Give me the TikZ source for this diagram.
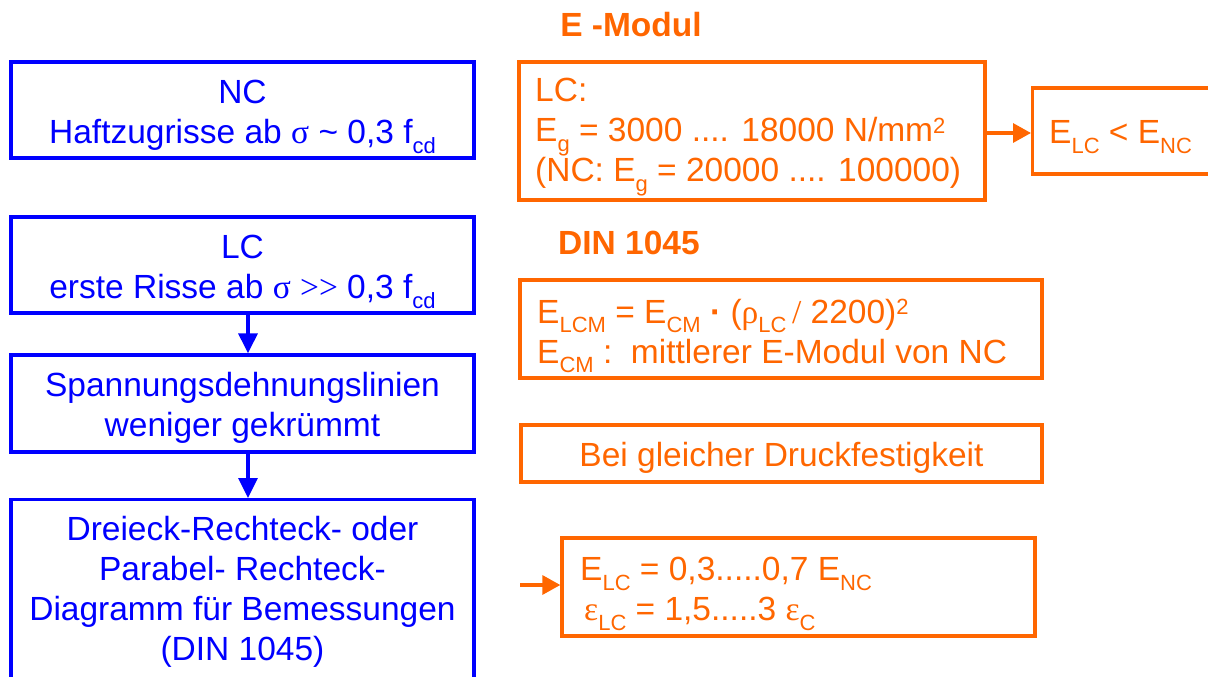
\documentclass[tikz,border=0pt]{standalone}
\usepackage{fontspec}
\setmainfont{Liberation Sans}
\newfontfamily\grk{Liberation Serif}
\usetikzlibrary{arrows.meta}
\definecolor{bl}{RGB}{0,0,255}
\definecolor{orng}{RGB}{255,102,0}
\newcommand\lo[1]{\raisebox{-0.28em}{\fontsize{22}{22}\selectfont #1}}
\newcommand\hi[1]{\raisebox{0.26em}{\fontsize{22}{22}\selectfont #1}}
\newcommand\fsz{\fontsize{33.5}{40}\selectfont}
\tikzset{
  bbox/.style={draw=bl, line width=3.3pt, minimum width=463pt, inner sep=0pt},
  btext/.style={text=bl, align=center, font=\fsz, inner sep=0pt},
  obox/.style={draw=orng, line width=3.3pt, inner sep=0pt},
  otext/.style={text=orng, font=\fsz, inner sep=0pt, align=left},
  otitle/.style={text=orng, font=\fsz\bfseries, inner sep=0pt},
  barrow/.style={draw=bl, line width=3.3pt, -{Triangle[length=20pt,width=19pt]}},
  oarrow/.style={draw=orng, line width=3.3pt, -{Triangle[length=18pt,width=19pt]}}
}
\begin{document}
\begin{tikzpicture}[x=1pt,y=-1pt]
\useasboundingbox (0,0) rectangle (1208,677);
\clip (0,0) rectangle (1208,677);
% blue column
\node[bbox, minimum height=96pt] (nc) at (242.5,110) {};
\node[btext] (nct) at ([yshift=-7pt]nc.center) {NC\\Haftzugrisse ab {\grk σ} \textasciitilde{} 0,3 f\lo{cd}};
\node[bbox, minimum height=96pt] (lc) at (242.5,265) {};
\node[btext] (lct) at ([yshift=-7pt]lc.center) {LC\\erste Risse ab {\grk σ} {\grk >>} 0,3 f\lo{cd}};
\node[bbox, minimum height=97pt] (sp) at (242.5,403.5) {};
\node[btext] (spt) at ([yshift=-4pt]sp.center) {Spannungsdehnungslinien\\weniger gekrümmt};
\node[bbox, minimum height=200pt, anchor=north] (dr) at (242.5,498) {};
\node[btext, anchor=north] (drt) at (242.5,516) {Dreieck-Rechteck- oder\\Parabel- Rechteck-\\Diagramm für Bemessungen\\(DIN 1045)};
\draw[barrow] (lc.south -| 248,0) -- (sp.north -| 248,0);
\draw[barrow] (sp.south -| 248,0) -- (dr.north -| 248,0);
% orange column
\node[otitle] (t1) at (631,25) {E -Modul};
\node[obox, minimum width=466pt, minimum height=138pt] (lcb) at (752,131) {};
\node[otext, anchor=west] (lcbt) at (535,137) {LC:\\E\lo{g} = 3000 .... 18000 N/mm\hi{2}\\(NC: E\lo{g} = 20000 .... 100000)};
\node[obox, minimum width=190pt, minimum height=86pt, anchor=west] (elc) at (1031,131) {};
\node[otext, anchor=west] (elct) at (1049,137) {E\lo{LC} < E\lo{NC}};
\draw[oarrow] (lcb.east |- 0,133) -- (elc.west |- 0,133);
\node[otitle] (t2) at (629,243) {DIN 1045};
\node[obox, minimum width=522pt, minimum height=98pt] (din) at (781,329) {};
\node[otext, anchor=west] (dint) at (537,336) {E\lo{LCM} = E\lo{CM} {\bfseries\textperiodcentered} ({\grk ρ}\lo{LC}\,{\grk /} 2200)\hi{2}\\E\lo{CM} :\ \ mittlerer E-Modul von NC};
\node[obox, minimum width=521pt, minimum height=57pt] (bei) at (781.5,453.5) {};
\node[otext, align=center] (beit) at ([yshift=-4pt]bei.center) {Bei gleicher Druckfestigkeit};
\node[obox, minimum width=473pt, minimum height=98pt] (rat) at (798.5,587) {};
\node[otext, anchor=west] (ratt) at (580,594) {E\lo{LC} = 0,3.....0,7 E\lo{NC}\\\hspace{4pt}{\grk ε}\lo{LC} = 1,5.....3 {\grk ε}\lo{C}};
\coordinate (rin) at (520,585);
\draw[oarrow] (rin) -- (rin -| rat.west);
\end{tikzpicture}
\end{document}
